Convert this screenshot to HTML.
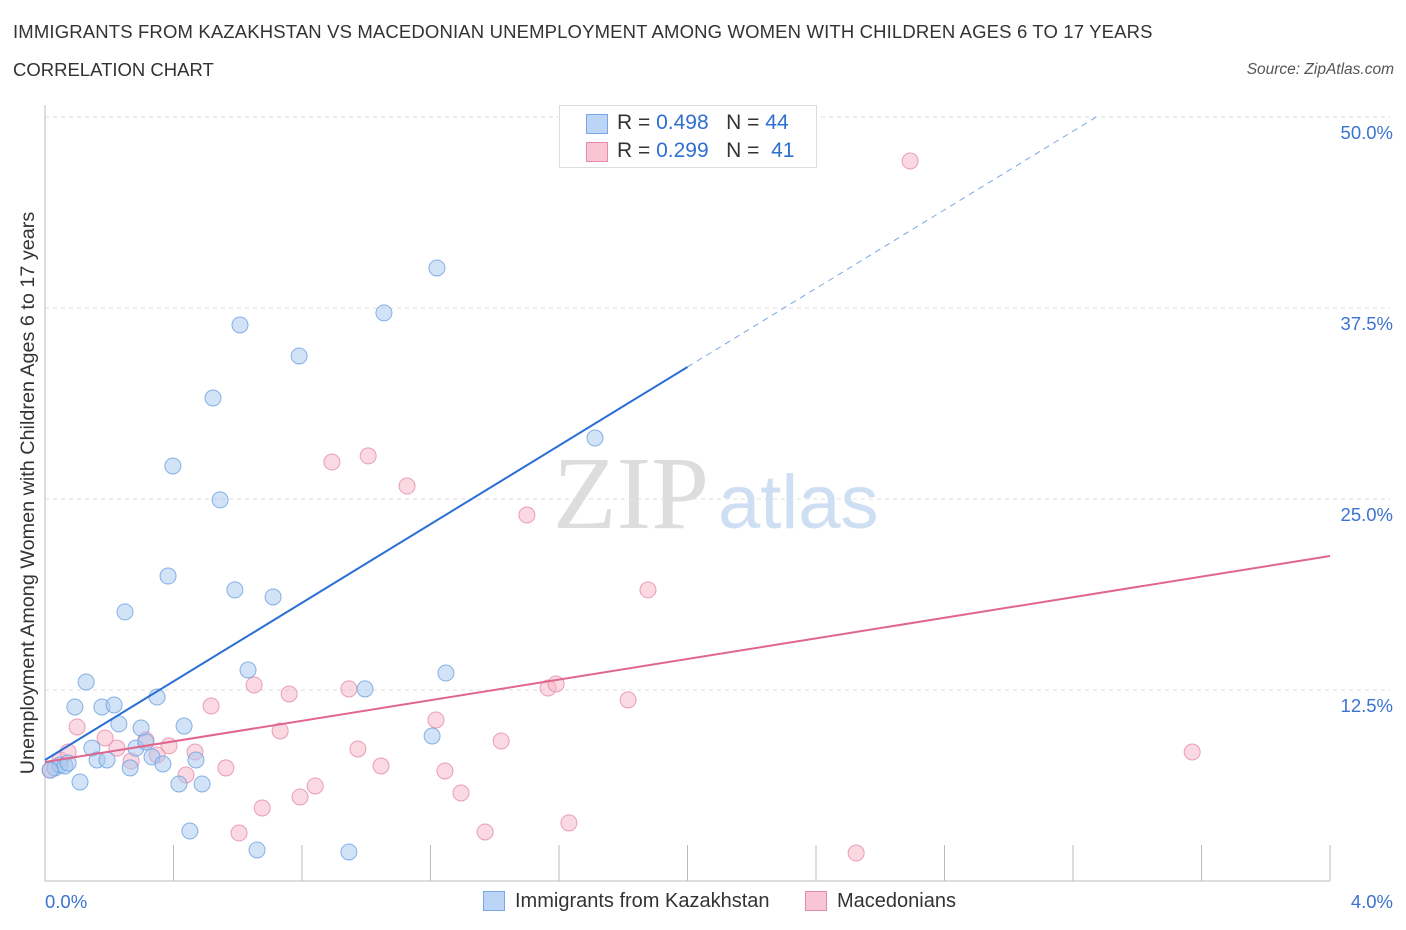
<!DOCTYPE html>
<html><head><meta charset="utf-8">
<style>
body{margin:0;background:#fff;font-family:"Liberation Sans",sans-serif;}
#wrap{position:relative;width:1406px;height:930px;overflow:hidden;}
.t{position:absolute;white-space:nowrap;}
</style></head><body>
<div id="wrap">
<div class="t" style="left:13px;top:21px;font-size:18.5px;letter-spacing:0.15px;color:#333;">IMMIGRANTS FROM KAZAKHSTAN VS MACEDONIAN UNEMPLOYMENT AMONG WOMEN WITH CHILDREN AGES 6 TO 17 YEARS</div>
<div class="t" style="left:13px;top:59px;font-size:18.5px;color:#333;">CORRELATION CHART</div>
<div class="t" style="right:12px;top:61px;font-size:15.5px;color:#555;font-style:italic;">Source: ZipAtlas.com</div>
<svg id="svg" width="1406" height="930" style="position:absolute;left:0;top:0"></svg>
</div>
<script>
const yTicks=[12.5,25,37.5,50];
const yTickLabels=["12.5%","25.0%","37.5%","50.0%"];
const xTickLabels=["0.0%","4.0%"];
const blueX=[0.031,0.047,0.062,0.072,0.093,0.109,0.128,0.146,0.162,0.177,0.193,0.215,0.230,0.249,0.265,0.283,0.299,0.314,0.333,0.349,0.367,0.383,0.398,0.417,0.433,0.451,0.470,0.489,0.523,0.545,0.591,0.607,0.632,0.660,0.710,0.791,0.946,0.996,1.055,1.205,1.220,1.248,1.712,0.016];
const blueY=[7.40,7.59,7.53,7.72,11.39,6.48,13.02,8.70,7.92,11.39,7.92,11.52,10.28,17.61,7.40,8.70,10.01,9.10,8.12,12.04,7.66,19.96,27.16,6.35,10.14,3.27,7.92,6.35,31.61,24.94,19.05,36.39,13.81,2.03,18.59,34.36,1.90,12.57,37.18,9.49,40.12,13.61,28.99,7.26];
const pinkX=[0.016,0.047,0.072,0.100,0.187,0.224,0.268,0.314,0.349,0.386,0.439,0.467,0.517,0.563,0.604,0.651,0.676,0.732,0.760,0.794,0.841,0.893,0.946,0.974,1.006,1.046,1.127,1.217,1.245,1.295,1.370,1.420,1.500,1.566,1.591,1.631,1.815,1.877,2.525,2.693,3.571];
const pinkY=[7.26,7.92,8.44,10.08,9.36,8.70,7.85,9.23,8.25,8.84,6.94,8.44,11.45,7.40,3.14,12.83,4.78,9.82,12.24,5.50,6.22,27.42,12.57,8.64,27.82,7.53,25.85,10.54,7.20,5.76,3.21,9.16,23.95,12.63,12.89,3.80,11.85,19.05,1.83,47.12,8.44];
const blueTrend=[7.92,12.86];
const pinkTrend=[7.79,3.37];

const X0=45,X1=1330,Y0=881,PY=191/12.5;
const sx=v=>X0+(v/4)*(X1-X0);
const sy=v=>Y0-v*PY;
const svg=document.getElementById('svg');
const NS='http://www.w3.org/2000/svg';
function mk(tag,attrs){const e=document.createElementNS(NS,tag);for(const k in attrs)e.setAttribute(k,attrs[k]);svg.appendChild(e);return e;}

yTicks.forEach((t,i)=>{
  const g=mk('line',{x1:X0,x2:X1+60,y1:sy(t),y2:sy(t),stroke:'#ddd','stroke-dasharray':'4,4'});
  
  
  const l=mk('text',{x:1393,y:sy(t)+22,'text-anchor':'end','font-size':18.5,fill:'#3b73d1','font-family':'Liberation Sans, sans-serif'});
  l.textContent=yTickLabels[i];
  
  
});
const ya=mk('line',{x1:X0,x2:X0,y1:105,y2:Y0,stroke:'#bbb'});


const xa=mk('line',{x1:X0,x2:X1,y1:Y0,y2:Y0,stroke:'#bbb'});


for(let i=1;i<=10;i++){
  const t=mk('line',{x1:sx(i*0.4),x2:sx(i*0.4),y1:845,y2:Y0,stroke:'#bbb'});
  
  
}
const xl0=mk('text',{x:45,y:908,'font-size':18.5,fill:'#3b73d1','font-family':'Liberation Sans, sans-serif'});
xl0.textContent=xTickLabels[0];


const xl1=mk('text',{x:1393,y:908,'text-anchor':'end','font-size':18.5,fill:'#3b73d1','font-family':'Liberation Sans, sans-serif'});
xl1.textContent=xTickLabels[1];


const yt=mk('text',{x:0,y:0,transform:'translate(34,493) rotate(-90)','text-anchor':'middle','font-size':19.8,fill:'#333','font-family':'Liberation Sans, sans-serif'});
yt.textContent='Unemployment Among Women with Children Ages 6 to 17 years';


const w1=mk('text',{x:553,y:528,'font-size':104,fill:'#ddd','font-family':'Liberation Serif, serif'});
w1.textContent='ZIP';


const w2=mk('text',{x:718,y:528,'font-size':76,fill:'#cfdff3','font-family':'Liberation Sans, sans-serif'});
w2.textContent='atlas';


function pts(xs,ys,fill,stroke,name){
  xs.forEach((x,i)=>{
    const c=mk('circle',{cx:sx(x),cy:sy(ys[i]),r:8,fill:fill,'fill-opacity':0.5,stroke:stroke,'stroke-width':1,'stroke-opacity':0.8});
    
    
  });
}
pts(pinkX,pinkY,'#f5b3c8','#e58aa7','pink-point');
pts(blueX,blueY,'#a8c8f0','#6a9fe0','blue-point');
const bl=mk('line',{x1:sx(0),y1:sy(blueTrend[0]),x2:sx(2),y2:sy(blueTrend[0]+2*blueTrend[1]),stroke:'#2a6fd6','stroke-width':2});


const xe=(50-blueTrend[0])/blueTrend[1];
const bd=mk('line',{x1:sx(2),y1:sy(blueTrend[0]+2*blueTrend[1]),x2:sx(xe),y2:sy(50),stroke:'#7aa6e4','stroke-width':1,'stroke-dasharray':'6,5'});


const pl=mk('line',{x1:sx(0),y1:sy(pinkTrend[0]),x2:sx(4),y2:sy(pinkTrend[0]+4*pinkTrend[1]),stroke:'#e0668e','stroke-width':2});


</script>
<div class="t" style="left:559px;top:105px;width:256px;height:61px;border:1px solid #ddd;background:#fff;">
 <div class="t" style="left:26px;top:8px;width:20px;height:18px;background:#bcd4f5;border:1px solid #7aa6e4;"></div>
 <div class="t" style="left:57px;top:5px;font-size:21px;color:#333;">R = <span style="color:#2f6fd0">0.498</span>&nbsp;&nbsp;&nbsp;N = <span style="color:#2f6fd0">44</span></div>
 <div class="t" style="left:26px;top:36px;width:20px;height:18px;background:#f8c5d5;border:1px solid #e58aa7;"></div>
 <div class="t" style="left:57px;top:33px;font-size:21px;color:#333;">R = <span style="color:#2f6fd0">0.299</span>&nbsp;&nbsp;&nbsp;N = <span style="color:#2f6fd0">&nbsp;41</span></div>
</div>
<div class="t" style="left:483px;top:891px;width:20px;height:18px;background:#bcd4f5;border:1px solid #7aa6e4;"></div>
<div class="t" style="left:515px;top:890px;font-size:20px;color:#333;">Immigrants from Kazakhstan</div>
<div class="t" style="left:805px;top:891px;width:20px;height:18px;background:#f8c5d5;border:1px solid #e58aa7;"></div>
<div class="t" style="left:837px;top:890px;font-size:20px;color:#333;">Macedonians</div>
</body></html>
